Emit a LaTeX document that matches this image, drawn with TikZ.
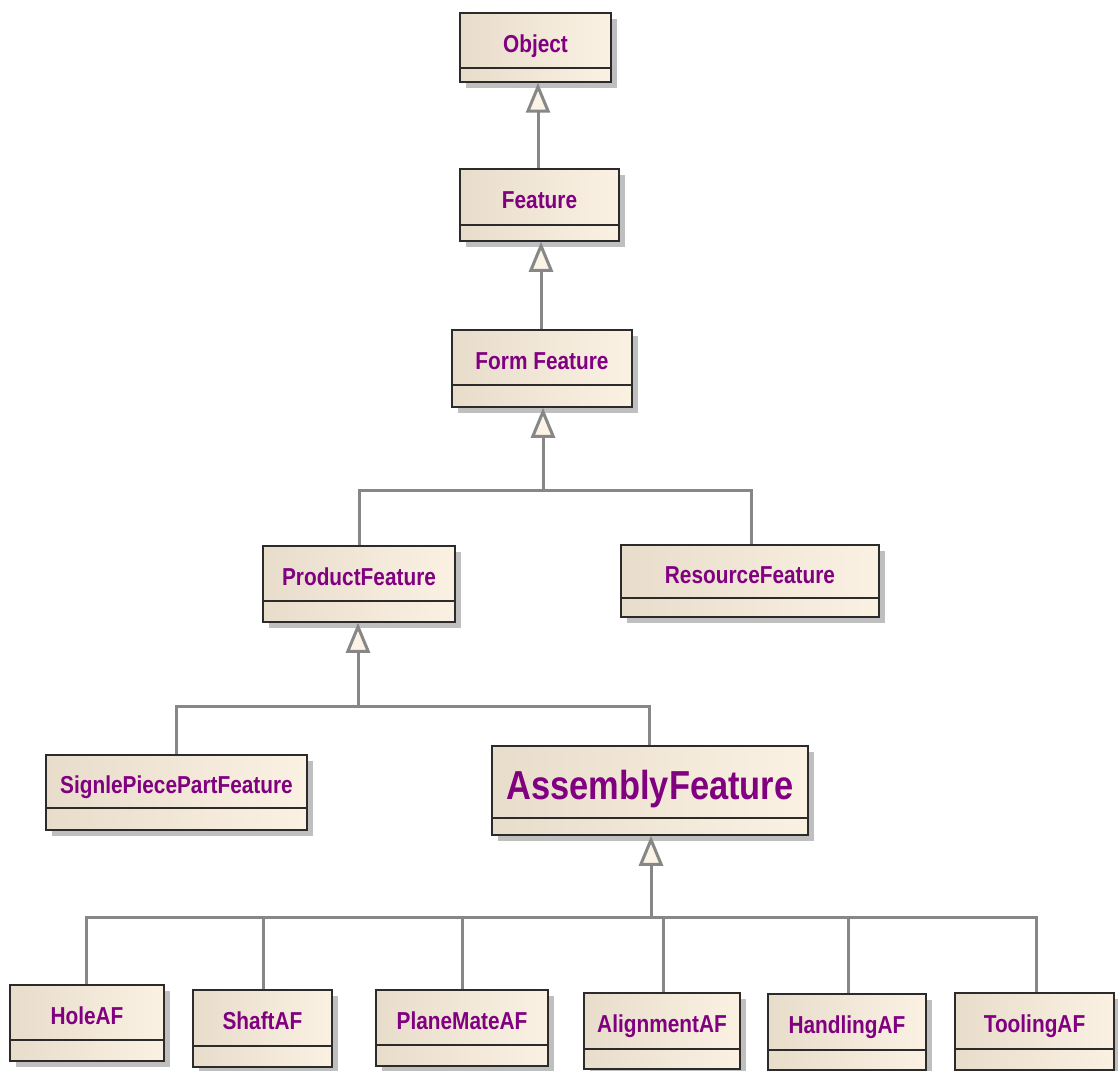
\documentclass[tikz,border=0pt]{standalone}
\usepackage{fontspec}
\setmainfont{Liberation Sans}[FakeStretch=0.85]
\usetikzlibrary{arrows.meta,shadows}

\definecolor{boxleft}{HTML}{E8DDCB}
\definecolor{boxright}{HTML}{FBF1E3}
\definecolor{nametext}{HTML}{800080}
\definecolor{linkgray}{HTML}{878787}
\definecolor{tipfill}{HTML}{FBF3E6}
\definecolor{boxborder}{HTML}{2B2B2B}

\tikzset{
  classbox/.style={draw=boxborder, line width=1.5pt, inner sep=0pt,
    left color=boxleft, right color=boxright,
    drop shadow={shadow xshift=6pt, shadow yshift=-6pt, fill=black!25, opacity=1}},
  compartment/.style={draw=boxborder, line width=1.5pt},
  namebase/.style={text=nametext, inner sep=0pt, anchor=base},
  classname/.style={namebase, font=\fontsize{24.5}{28}\selectfont\bfseries, yshift=-11.8pt},
  bigname/.style={namebase, font=\fontsize{40.5}{46}\selectfont\bfseries, yshift=-17.5pt},
  link/.style={draw=linkgray, line width=3pt},
  generalize/.style={link, -{Triangle[length=30pt,width=24pt,fill=tipfill]}},
}

% UML class box: [label style] name, x1, y1, x2, y2, compartment line y, class name
\newcommand\umlclass[8][classname]{%
  \node[classbox, minimum width={(#5-#3)*1pt}, minimum height={(#6-#4)*1pt}]
    (#2) at ({(#3+#5)/2},{(#4+#6)/2}) {};
  \path (0,#7) coordinate (#2-sep);
  \draw[compartment] (#2.west |- #2-sep) -- (#2.east |- #2-sep);
  \node[#1] (#2-name) at ({(#3+#5)/2},{(#4+#7)/2}) {#8};
}

\begin{document}
\begin{tikzpicture}[x=1pt,y=-1pt]
\useasboundingbox (0,0) rectangle (1118,1070);

% class boxes
\umlclass{object}{460}{13}{611}{82}{68}{Object}
\umlclass{feature}{460}{169}{619}{241}{225}{Feature}
\umlclass{formfeature}{452}{330}{632}{407}{385}{Form Feature}
\umlclass{productfeature}{263}{546}{455}{622}{601}{ProductFeature}
\umlclass{resourcefeature}{621}{545}{879}{617}{598}{ResourceFeature}
\umlclass{singlepiece}{46}{755}{307}{830}{808}{SignlePiecePartFeature}
\umlclass[bigname]{assembly}{492}{746}{808}{835}{818}{AssemblyFeature}
\umlclass{hole}{10}{985}{164}{1061}{1040}{HoleAF}
\umlclass{shaft}{193}{990}{332}{1067}{1046}{ShaftAF}
\umlclass{planemate}{376}{990}{548}{1066}{1045}{PlaneMateAF}
\umlclass{alignment}{584}{993}{740}{1069}{1049}{AlignmentAF}
\umlclass{handling}{768}{994}{926}{1070}{1050}{HandlingAF}
\umlclass{tooling}{955}{993}{1114}{1070}{1049}{ToolingAF}

% single generalizations
\coordinate (e1) at (538,0);
\coordinate (e2) at (541,0);
\draw[generalize] (feature.north -| e1) -- (object.south -| e1);
\draw[generalize] (formfeature.north -| e2) -- (feature.south -| e2);

% Form Feature subclasses
\coordinate (j1) at (543,490);
\coordinate (d11) at (359,490);
\coordinate (d12) at (751,490);
\draw[link] (productfeature.north -| d11) -- (d11) -- (d12) -- (resourcefeature.north -| d12);
\draw[generalize] (j1) -- (formfeature.south -| j1);

% ProductFeature subclasses
\coordinate (j2) at (358,706);
\coordinate (d21) at (176,706);
\coordinate (d22) at (649,706);
\draw[link] (singlepiece.north -| d21) -- (d21) -- (d22) -- (assembly.north -| d22);
\draw[generalize] (j2) -- (productfeature.south -| j2);

% AssemblyFeature subclasses
\coordinate (j3) at (651,917);
\coordinate (d31) at (86,917);
\coordinate (d32) at (263,917);
\coordinate (d33) at (462,917);
\coordinate (d34) at (663,917);
\coordinate (d35) at (848,917);
\coordinate (d36) at (1036,917);
\draw[link] (hole.north -| d31) -- (d31) -- (d36) -- (tooling.north -| d36);
\draw[link] (shaft.north -| d32) -- (d32);
\draw[link] (planemate.north -| d33) -- (d33);
\draw[link] (alignment.north -| d34) -- (d34);
\draw[link] (handling.north -| d35) -- (d35);
\draw[generalize] (j3) -- (assembly.south -| j3);
\end{tikzpicture}
\end{document}
